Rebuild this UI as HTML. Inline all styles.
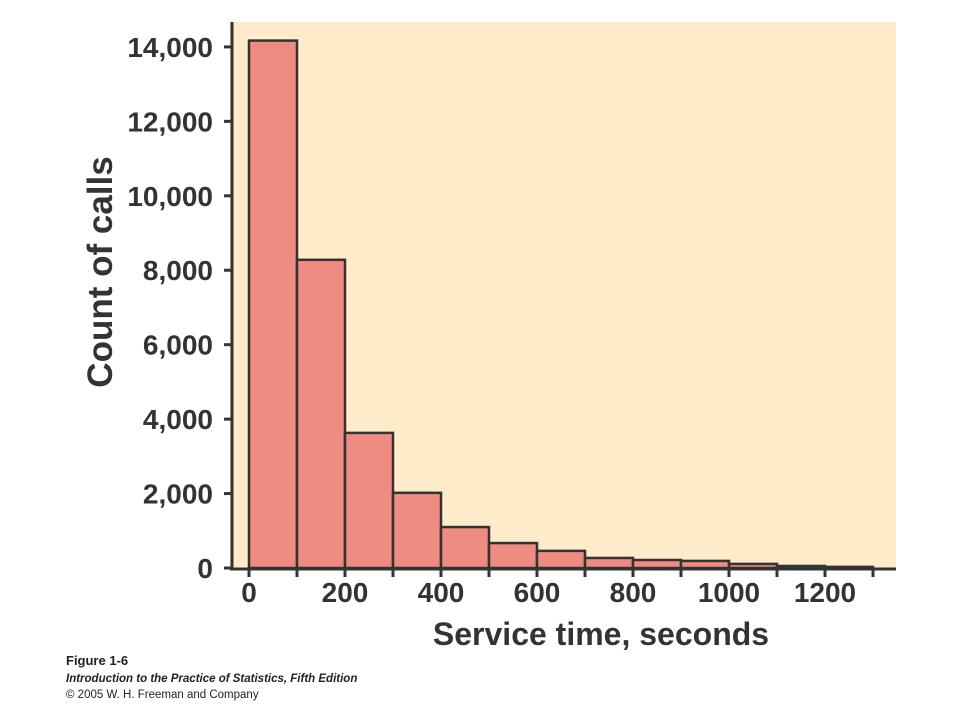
<!DOCTYPE html>
<html><head><meta charset="utf-8"><style>
body{margin:0;background:#fff;width:960px;height:720px;overflow:hidden;font-family:"Liberation Sans",sans-serif}
</style></head><body>
<svg width="960" height="720">
<rect x="230" y="22" width="666" height="546" fill="#fdebc9"/>
<g id="bars"></g>
<line x1="232" y1="22" x2="232" y2="569" stroke="#333" stroke-width="3"/>
<line x1="230" y1="569" x2="896" y2="569" stroke="#333" stroke-width="3"/>
<g id="yticks"></g><g id="xticks"></g>
<text x="112" y="272" transform="rotate(-90 112 272)" text-anchor="middle" font-size="35" font-weight="bold" fill="#333">Count of calls</text>
<text x="601" y="645" text-anchor="middle" font-size="32" font-weight="bold" fill="#333">Service time, seconds</text>
<text x="66" y="665" font-size="13" font-weight="bold" fill="#222">Figure 1-6</text>
<text x="66" y="682" font-size="11.5" font-weight="bold" font-style="italic" fill="#222">Introduction to the Practice of Statistics, Fifth Edition</text>
<text x="66" y="698" font-size="11.5" fill="#222">© 2005 W. H. Freeman and Company</text>
</svg>
<script>
const binStarts=[0,100,200,300,400,500,600,700,800,900,1000,1100,1200];
const counts=[14170,8280,3630,2020,1100,670,460,270,215,190,110,55,30];
const yTicks=[0,2000,4000,6000,8000,10000,12000,14000];
const yTickLabels=["0","2,000","4,000","6,000","8,000","10,000","12,000","14,000"];
const xTicks=[0,200,400,600,800,1000,1200];
const xMinor=[100,300,500,700,900,1100,1300];
const binWidth=100;
const NS="http://www.w3.org/2000/svg";
const xs=v=>249+v*0.48;
const ys=v=>568-v*0.03722;
function mk(t,a,p){const e=document.createElementNS(NS,t);for(const k in a)e.setAttribute(k,a[k]);p.appendChild(e);return e;}
const bg=document.getElementById('bars');
binStarts.forEach((b,i)=>{
 const r=mk('rect',{x:xs(b),y:ys(counts[i]),width:xs(b+binWidth)-xs(b),height:ys(0)-ys(counts[i]),fill:'#ef8b81',stroke:'#333','stroke-width':2.5},bg);
 
 
});
const yg=document.getElementById('yticks');
yTicks.forEach((v,i)=>{
 const l=mk('line',{x1:224,x2:232,y1:ys(v),y2:ys(v),stroke:'#333','stroke-width':3},yg);
 
 
 const t=mk('text',{x:213,y:ys(v)+10,'text-anchor':'end','font-size':28,'font-weight':'bold',fill:'#333'},yg);
 t.textContent=yTickLabels[i];
 
 
});
const xg=document.getElementById('xticks');
xTicks.concat(xMinor).forEach(v=>{
 const l=mk('line',{x1:xs(v),x2:xs(v),y1:569,y2:577,stroke:'#333','stroke-width':3},xg);
 
 
});
xTicks.forEach(v=>{
 const t=mk('text',{x:xs(v),y:602,'text-anchor':'middle','font-size':28,'font-weight':'bold',fill:'#333'},xg);
 t.textContent=String(v);
 
 
});
</script>
</body></html>
